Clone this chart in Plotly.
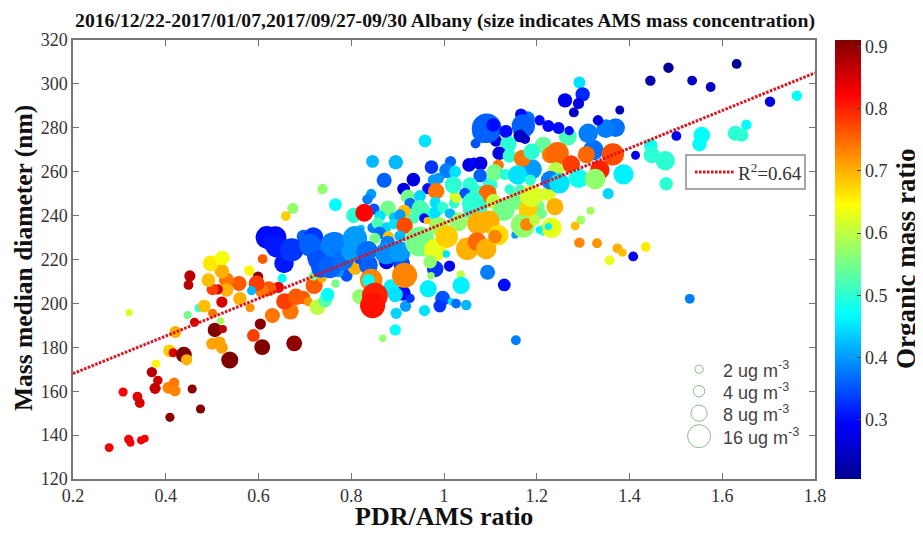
import plotly.graph_objects as go

# low-left part of the cloud
pdr_a = [.278,.320,.324,.347,.355,.409,.475,.308,.339,.344,.377,.383,.370,.457,.406,.418,.420,.379,.408,.416,.439,.445,.538,.500,.516,.521,.506,.523,.518,.462,.421,.447,.321,.471,.483,.501,.521,.560,.582,.589,.604,.608,.677,.630,.669,.656,.681,.697,.707,.720,.727,.744,.749,.766,.737,.718,.651,.643,.622,.607,.599,.596,.585,.580,.558,.531,.531,.512,.501,.492,.521,.497,.522,.449,.452,.609,.659,.674,.738,.766]
mmd_a = [134.3,138.1,136.5,137.6,138.4,148.1,151.9,159.6,157.5,154.6,161.3,164.9,168.7,161,161.6,163.9,160.2,172.5,178.4,177.5,176.6,174.3,174.2,181.6,182.2,179.8,187.9,188.3,192,191.4,187,194.7,195.8,197.9,198.8,195.5,200.6,202.1,198,185.4,190.6,180.1,181.8,194.5,196.4,200.9,203,202.7,200.8,208.2,198.3,201.2,204,209,211.4,212.5,211.4,207.3,206.7,205.8,212.2,209.1,205.8,215,209.1,210.6,206.1,206.4,206.4,210.6,214.7,218.2,220.7,208.4,212.5,220.2,239.8,243.3,252.1,245]
mass_a = [1.9,2,1.5,1.6,1.4,2,2,2,2.3,2.3,3,2.1,2.6,2,3.4,2.6,3,1.6,3.9,2,6,3,7,3.4,3.4,3.4,5,1.6,1.3,2,3.4,1.6,1.3,1.6,3.9,2,3,4.4,2,3.9,3,6,6,5.4,6.5,6.5,6.5,4.4,2,7,6,4.4,4.4,1.6,2,2,2,3,5.4,4.4,2.6,6,2,2.6,5.4,5.4,4.4,2.6,3.4,4.4,5,6,5,2.3,3,2.3,2.3,3,2.6,3.9]
org_a = [.83,.83,.83,.83,.83,.9,.92,.82,.84,.85,.86,.86,.87,.9,.73,.74,.73,.65,.68,.85,.92,.7,.92,.71,.71,.71,.92,.87,.58,.85,.7,.55,.62,.5,.69,.74,.85,.7,.72,.78,.9,.92,.9,.74,.74,.78,.76,.76,.72,.76,.6,.53,.47,.55,.7,.55,.47,.84,.76,.74,.9,.78,.42,.65,.76,.74,.7,.85,.78,.69,.7,.66,.64,.87,.87,.76,.68,.57,.57,.47]

# filler beneath the dense green patch
pdr_u = [.99,.977,1.099,1.024,1.157,1.164,1.067,1.128,1.17,1.189,.948,.988,1.031,1.06,1.2,1.1,1.07]
mmd_u = [243.3,241,254,248.6,247,251.7,243,242.6,235.7,248.6,242.6,235,237.2,252,244,247,236]
mass_u = [3.9,3.9,5.4,3,8.4,3,14,12,13.8,13,9,8.4,8.4,6,6,6,5]
org_u = [.5,.47,.5,.62,.55,.52,.5,.57,.57,.62,.52,.57,.57,.5,.55,.55,.5]

# upper middle of the cloud
pdr_b = [.959,1.085,1.068,1.134,1.112,1.164,1.175,1.139,1.119,1.141,1.189,1.214,1.229,1.169,.846,.896,.973,1.014,1.006,1.024,1.054,1.065,1.079,1.078,1.117,1.109,1.132,1.189,1.159,1.186,.934,.871,.913,.965,.977,.988,1.02,1.056,1.045,1.078,1.094,.983,1.141,.843,.835,.922,.948,.927,.981,1.022,1.027,1.063,1.107,1.13,1.182,1.189,1.225,1.21,.805,.849,.879,.828,.914,.948,.934,.957,.964,.981,.997,1.013,1.031,.99,.862,.892,.905,.846,.857,.876,.892,.861,.915,.88,.905,.851,.821]
mmd_b = [274,278.2,272.8,278.2,274.1,276.7,274.9,272.6,268.4,267.2,261.1,272.2,267.6,266.1,264.7,264.3,262.1,264.6,260.5,260,263.1,264.6,263.8,258.2,263,259.6,258.8,269.1,258.5,256.2,256.4,256.1,252.1,252.3,256.2,257,254,254,250.1,248.6,250.1,251.1,252,249.8,247.4,248.6,248.9,245.6,246,245.6,247.9,245.6,246.4,242.6,242.6,248.6,250.1,241,240.1,242.9,243.3,241.3,241.8,243.3,238.8,238.8,237.7,241.3,243.8,241,237.2,235,239.8,239.2,240.3,234.5,236.5,234.7,236.2,232.1,235.4,230.4,230.7,229.6,234.2]
mass_b = [3.9,12,2.3,3.9,3.4,3.9,2.3,6.5,4.4,4.4,10,6.5,6.5,7,3.9,4.9,4.4,3,5.4,3.4,4.4,1.6,4.4,4.4,3,6.5,3,6.5,9,3,4.4,5.4,3.9,3,3,3,7,5.4,3,12,7.7,6.5,2.3,2.6,2.6,4.9,3.4,3,3,2.6,2.3,12,5.4,10,9,10,5.4,3,5.4,3,6,7.7,4.4,6.5,3,2.3,1.3,3,3,2.6,6.5,8.4,3,2.3,3,2.6,3.4,2.3,2.6,3.9,6.5,3,3,3,1.3]
org_b = [.45,.37,.35,.32,.27,.27,.25,.5,.27,.5,.4,.54,.74,.74,.42,.42,.33,.36,.38,.45,.28,.3,.27,.36,.74,.55,.5,.5,.45,.5,.27,.36,.27,.3,.4,.4,.5,.5,.35,.5,.75,.74,.5,.4,.38,.55,.44,.37,.45,.5,.62,.5,.6,.55,.68,.62,.62,.55,.5,.35,.55,.82,.69,.52,.52,.3,.69,.45,.5,.42,.57,.58,.45,.43,.4,.38,.52,.44,.45,.37,.77,.69,.42,.55,.42]

# blue band along the fit line
pdr_c = [.618,.636,.625,.655,.643,.668,.697,.722,.711,.725,.736,.758,.776,.761,.718,.71,.722,.734,.747,.765,.776,.79,.772,.808,.808,.808,.837,.819,.837,.879,.876,.876,.909,.905]
mmd_c = [230.1,230,227.3,218.2,225,224.3,230.4,230.4,227.3,221.3,216.4,219,215.2,226.6,230.4,226.6,220.5,216,223.6,227.4,219,212.6,214.5,216,225.8,229.6,217.5,221.3,224.3,227.4,219,222.8,217.5,222.8]
mass_c = [12,12,5.4,9,8.4,12,4.4,6.5,12,8.4,8.4,8.4,4.4,13.8,8.4,12,5.4,8.4,10,12,12,3.4,3,4.4,8.4,12,8.4,5.4,7.7,5.4,5.4,12,6.5,10]
org_c = [.3,.3,.31,.31,.31,.33,.36,.36,.36,.36,.37,.36,.4,.38,.33,.35,.35,.35,.37,.38,.35,.35,.4,.7,.37,.38,.35,.35,.36,.38,.27,.38,.33,.4]

# more of the blue band, drawn on top of it
pdr_v = [.639,.672,.711,.729,.754,.761,.783,.801,.808,.833,.837,.876,.911,.905]
mmd_v = [225.9,224.4,226.7,219.8,216.8,226.7,219.8,223.6,229.7,223.6,216.8,222.9,218.3,223.6]
mass_v = [11,13,11,10,13,15,10,10,14,10,7,11,5,10]
org_v = [.31,.33,.36,.35,.36,.38,.37,.4,.4,.37,.36,.39,.35,.4]

# dense orange and green patch, plus the scatter below it
pdr_d = [.948,.981,1.006,1.074,1.096,1.05,1.071,1.091,1.117,1.11,1.153,1.171,1.178,1.196,1.214,1.225,1.205,1.005,.981,1.012,.97,.972,1.036,1.094,1.13,.966,1.037,.997,.991,1.016,1.026,1.048,.958,.917,.897,.895,.868,1.155,.818,.912,.886,.895,.927,.843,.837,.915,.851,.846]
mmd_d = [228.1,224.3,230.4,236.5,237.2,224.9,228.1,224.8,231.2,230.4,231.2,235,236,238,233.4,234.2,233.4,222.5,215.7,217,219,212.6,213.1,214.2,208.4,206.7,208.2,202.3,198.8,200.8,199.9,199.3,196.7,198.7,195.5,187.9,184.1,183.2,203.1,204.6,207.6,204,202.3,210.7,210.5,212.8,203.5,199]
mass_d = [21,12,12,12,12,12,8.4,10,10,4.4,1.3,12,3.9,3,3,5.4,1.3,1.3,6.5,3,4.4,1.3,1.6,5.4,3.9,7,7,5.4,3.9,1.3,2.3,2.6,3,3,3,3,1.3,2.3,5.4,5.4,5.4,5.4,2,12,3.9,15,16,15]
org_d = [.55,.63,.68,.7,.7,.7,.75,.7,.67,.73,.4,.57,.73,.6,.47,.68,.47,.45,.33,.28,.57,.57,.6,.38,.3,.46,.46,.35,.33,.45,.37,.42,.45,.4,.44,.47,.57,.38,.57,.3,.46,.45,.33,.73,.47,.73,.8,.81]

# upper right of the cloud
pdr_e = [1.292,1.299,1.261,1.29,1.28,1.379,1.445,1.484,1.535,1.575,1.631,1.703,1.761,1.652,1.628,1.642,1.556,1.551,1.501,1.446,1.448,1.477,1.413,1.479,1.387,1.354,1.322,1.364,1.307,1.37,1.349,1.311,1.332,1.267,1.27,1.247,1.225,1.206,1.18,1.166,1.171,1.092,1.106,1.133,1.164,1.172,1.245,1.274,1.336,1.241,1.229,1.29,1.326,1.249,1.239,1.316,1.295,1.283,1.232,1.225,1.206,1.292,1.33,1.374,1.385,1.435,1.357,1.408,1.53]
mmd_e = [300.6,295.2,292.5,291.1,287,288.1,301.5,307.4,301.5,298.6,309.1,291.9,294.6,281.4,277.5,276.7,276.7,272.5,276.3,271.9,267.6,265,267.5,254.5,258.8,250,269.9,267.9,267.8,280.1,279.6,277.5,283.4,276,278.7,279.9,280.8,283.4,284.3,286.1,280.8,279.8,281.3,278.4,276.3,275.2,268.4,263.4,260.8,260.5,256.2,257,256.7,254.7,244.1,242.2,238,235.3,234.5,235,233.7,227.7,227.4,225.1,223.1,225.7,219.6,221.4,202.1]
mass_e = [3.4,4.9,4.9,3,2.3,1.9,2.6,2.6,2.3,2.3,2.3,2.6,2.6,2.6,5.4,4.4,6.5,4.9,2.3,4.4,6.5,9,1.9,4.4,9.8,3,10,12,7,8.4,8.4,9,2.6,7.7,2,3.4,3.4,2.6,4.9,3.4,13,21,4.4,3.9,3.9,2.3,12,7.7,9,6.5,8.4,9,10,10,7,1.6,1.9,1.9,10,1.3,1,2.6,2.3,2.3,1.6,2.3,2.3,2.3,2.3]
org_e = [.45,.32,.28,.27,.25,.24,.23,.21,.25,.25,.21,.27,.47,.47,.5,.5,.47,.47,.28,.48,.5,.5,.28,.5,.46,.44,.37,.77,.75,.37,.38,.38,.27,.52,.3,.3,.3,.3,.37,.3,.36,.36,.3,.3,.25,.25,.75,.78,.8,.6,.38,.48,.57,.45,.7,.58,.58,.69,.63,.46,.46,.73,.72,.7,.69,.66,.63,.28,.38]

fit_x = [0.2, 1.8]
fit_y = [168, 305]
fit_label = "R<sup>2</sup>=0.64"

legend_mass = [2, 4, 8, 16]
legend_x = [1.55, 1.55, 1.55, 1.55]
legend_y = [170, 160, 150, 139.5]
legend_text = ["2 ug m<sup>-3</sup>", "4 ug m<sup>-3</sup>", "8 ug m<sup>-3</sup>", "16 ug m<sup>-3</sup>"]

x_ticks = [0.2, 0.4, 0.6, 0.8, 1, 1.2, 1.4, 1.6, 1.8]
y_ticks = list(range(120, 321, 20))
cbar_ticks = [0.3, 0.4, 0.5, 0.6, 0.7, 0.8, 0.9]

pdr = pdr_a + pdr_u + pdr_b + pdr_c + pdr_v + pdr_d + pdr_e
mmd = mmd_a + mmd_u + mmd_b + mmd_c + mmd_v + mmd_d + mmd_e
mass = mass_a + mass_u + mass_b + mass_c + mass_v + mass_d + mass_e
org = org_a + org_u + org_b + org_c + org_v + org_d + org_e
assert len(pdr) == len(mmd) == len(mass) == len(org), (len(pdr), len(mmd), len(mass), len(org))

SERIF = "Liberation Serif"
INK = "#333333"
BLACK = "#111111"
JET = [[0, "#00008f"], [0.125, "#0000ff"], [0.375, "#00ffff"], [0.625, "#ffff00"], [0.875, "#ff0000"], [1, "#800000"]]

fig = go.Figure()
fig.add_trace(go.Scatter(
    x=pdr, y=mmd, mode="markers", showlegend=False,
    marker=dict(size=mass, sizemode="area", sizeref=1 / 21, color=org, cmin=0.205, cmax=0.91,
                colorscale=JET, opacity=1, line=dict(width=0),
                colorbar=dict(x=1.027, xanchor="left", xpad=0, ypad=0, y=0, yanchor="bottom", len=1, lenmode="fraction",
                              thickness=26, tickvals=cbar_ticks, ticks="inside", ticklen=4,
                              tickcolor="#444444", outlinewidth=0,
                              tickfont=dict(family=SERIF, size=18, color=INK))),
))
fig.add_trace(go.Scatter(x=fit_x, y=fit_y, mode="lines", showlegend=False,
                         line=dict(color="#e0101c", width=3, dash="2.5px,1.5px")))
fig.add_trace(go.Scatter(x=legend_x, y=legend_y, mode="markers", showlegend=False,
                         marker=dict(size=legend_mass, sizemode="area", sizeref=1 / 16.5,
                                     color="rgba(0,0,0,0)", line=dict(color="#5f9f5f", width=1))))

annotations = [
    dict(text=t, x=1.597, y=v, xref="x", yref="y", xanchor="left", yanchor="middle", showarrow=False,
         font=dict(family="Liberation Sans", size=18, color="#444444"))
    for t, v in zip(legend_text, legend_y)
]
annotations += [
    dict(text=fit_label, x=(736 - 73) / 742, y=(479 - 172) / 439, xref="paper", yref="paper",
         xanchor="left", yanchor="middle", showarrow=False, font=dict(family=SERIF, size=19, color=INK)),
    dict(text="<b>Organic mass ratio</b>", x=(906 - 73) / 742, y=(479 - 259) / 439, xref="paper", yref="paper",
         xanchor="center", yanchor="middle", textangle=-90, showarrow=False,
         font=dict(family=SERIF, size=27, color=BLACK)),
    dict(text="<b>Mass median diameter (nm)</b>", x=(24 - 73) / 742, y=(479 - 258) / 439, xref="paper", yref="paper",
         xanchor="center", yanchor="middle", textangle=-90, showarrow=False,
         font=dict(family=SERIF, size=25.5, color=BLACK)),
    dict(text="<b>PDR/AMS ratio</b>", x=(444 - 73) / 742, y=(479 - 517) / 439, xref="paper", yref="paper",
         xanchor="center", yanchor="middle", showarrow=False, font=dict(family=SERIF, size=26, color=BLACK)),
]
shapes = [
    dict(type="rect", xref="paper", yref="paper", x0=(686 - 73) / 742, x1=(805 - 73) / 742,
         y0=(479 - 189) / 439, y1=(479 - 155) / 439, line=dict(color="#8a8a8a", width=1.5),
         fillcolor="white", layer="between"),
    dict(type="line", xref="paper", yref="paper", x0=(695 - 73) / 742, x1=(734 - 73) / 742,
         y0=(479 - 172) / 439, y1=(479 - 172) / 439, line=dict(color="#e0101c", width=3, dash="2.5px,1.5px")),
]

axis = dict(showgrid=False, zeroline=False, showline=True, linecolor="#777777", linewidth=1.5, mirror="ticks",
            ticks="inside", ticklen=6, tickcolor="#777777", automargin=False,
            tickfont=dict(family=SERIF, size=18, color=INK))
fig.update_layout(
    width=915, height=525, autosize=False, plot_bgcolor="white", paper_bgcolor="white",
    margin=dict(l=65, r=108, t=32, b=54),
    title=dict(text="<b>2016/12/22-2017/01/07,2017/09/27-09/30 Albany (size indicates AMS mass concentration)</b>",
               x=437 / 915, xanchor="center", y=1 - 12 / 525, yanchor="middle",
               font=dict(family=SERIF, size=19.7, color=BLACK)),
    xaxis=dict(axis, range=[0.2, 1.8], tickvals=x_ticks, ticktext=["0.2", "0.4", "0.6", "0.8", "1", "1.2", "1.4", "1.6", "1.8"],
               ticklabelstandoff=0),
    yaxis=dict(axis, range=[120, 320], tickvals=y_ticks),
    annotations=annotations, shapes=shapes,
)
fig.write_html("out.html")
